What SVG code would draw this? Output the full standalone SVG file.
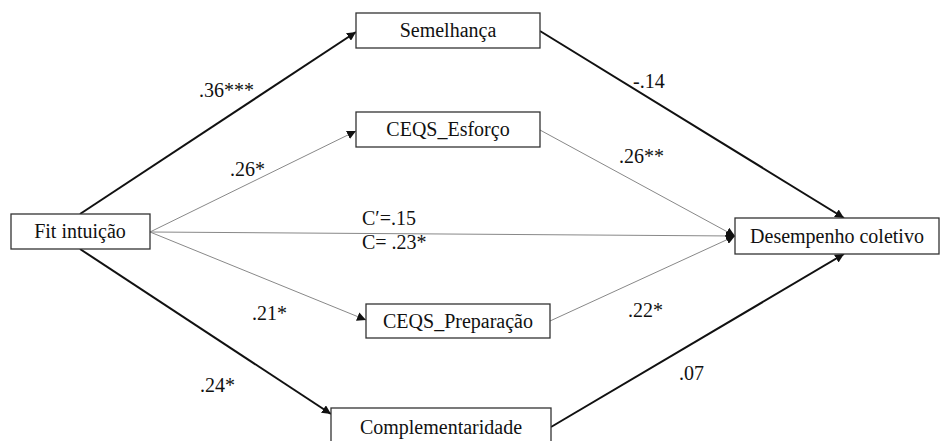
<svg xmlns="http://www.w3.org/2000/svg" width="942" height="441" viewBox="0 0 942 441">
<style>
.box{fill:#fff;stroke:#333;stroke-width:1.3}
text{font-family:'Liberation Serif','Times New Roman','DejaVu Serif',serif;font-size:20px;fill:#111}
.thick{stroke:#111;stroke-width:2;fill:none}
.thin{stroke:#888;stroke-width:1;fill:none}
</style>
<defs>
<marker id="ah" viewBox="0 0 10 10" refX="10" refY="5" markerWidth="9" markerHeight="9" markerUnits="userSpaceOnUse" orient="auto"><path d="M0,0 L10,5 L0,10 z" fill="#111"/></marker>
</defs>
<g id="connectors">
<line class="thick" x1="80" y1="214" x2="356" y2="32" marker-end="url(#ah)"/>
<line class="thin" x1="150" y1="232" x2="356" y2="131" marker-end="url(#ah)"/>
<line class="thin" x1="150" y1="232" x2="735" y2="236" marker-end="url(#ah)"/>
<line class="thin" x1="150" y1="232" x2="366" y2="320" marker-end="url(#ah)"/>
<line class="thick" x1="80" y1="249" x2="331" y2="414" marker-end="url(#ah)"/>
<line class="thick" x1="540" y1="31" x2="844" y2="218" marker-end="url(#ah)"/>
<line class="thin" x1="540" y1="130" x2="735" y2="236" marker-end="url(#ah)"/>
<line class="thin" x1="550" y1="321" x2="735" y2="236" marker-end="url(#ah)"/>
<line class="thick" x1="551" y1="427" x2="844" y2="254" marker-end="url(#ah)"/>
</g>
<g font-family="Liberation Serif, serif" font-size="20">
<g id="semelhanca"><rect class="box" x="356" y="13" width="184" height="35"/><text x="448" y="37" text-anchor="middle">Semelhança</text></g>
<g id="ceqs_esforco"><rect class="box" x="356" y="112" width="184" height="35"/><text x="448" y="136" text-anchor="middle">CEQS_Esforço</text></g>
<g id="fit"><rect class="box" x="11" y="214" width="139" height="35"/><text x="80" y="238" text-anchor="middle">Fit intuição</text></g>
<g id="ceqs_preparacao"><rect class="box" x="366" y="304" width="184" height="34"/><text x="458" y="328" text-anchor="middle">CEQS_Preparação</text></g>
<g id="complementaridade"><rect class="box" x="331" y="408" width="220" height="40"/><text x="441" y="434" text-anchor="middle">Complementaridade</text></g>
<g id="desempenho"><rect class="box" x="735" y="218" width="204" height="36"/><text x="837" y="243" text-anchor="middle">Desempenho coletivo</text></g>
<g id="labels">
<text x="199" y="97">.36***</text>
<text x="230" y="176">.26*</text>
<text x="633" y="88">-.14</text>
<text x="619" y="163">.26**</text>
<text x="362" y="225">C′=.15</text>
<text x="362" y="249">C= .23*</text>
<text x="252" y="320">.21*</text>
<text x="200" y="392">.24*</text>
<text x="628" y="317">.22*</text>
<text x="679" y="380">.07</text>
</g>
</g>
</svg>
